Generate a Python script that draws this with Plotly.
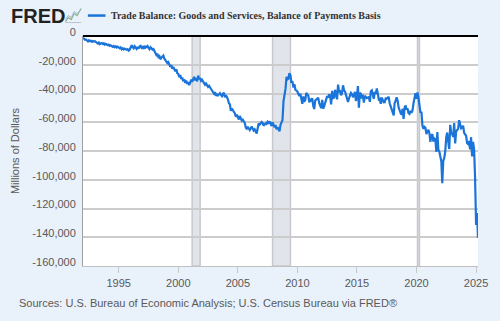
import pandas as pd
import plotly.graph_objects as go

# Monthly trade balance, thousands of millions (x1000 -> millions of dollars), Jan 1992 - Mar 2025
y1992 = [-1.2, -1.8, -2.6, -2.4, -3.2, -3.8, -3.0, -3.6, -3.3, -4.0, -3.5, -3.9]
y1993 = [-3.6, -4.2, -4.8, -5.3, -4.6, -5.7, -5.2, -4.9, -5.6, -5.1, -6.0, -5.5]
y1994 = [-5.9, -6.4, -6.0, -6.9, -6.5, -7.3, -7.6, -7.0, -7.8, -7.2, -8.0, -7.4]
y1995 = [-8.1, -8.6, -8.0, -9.2, -8.6, -9.4, -8.8, -9.0, -9.6, -9.2, -10.2, -9.6]
y1996 = [-7.2, -6.4, -7.8, -8.6, -7.1, -8.4, -9.0, -7.6, -8.8, -7.3, -6.8, -8.2]
y1997 = [-7.6, -9.0, -6.9, -8.1, -7.4, -7.0, -8.3, -9.2, -7.8, -8.6, -9.4, -9.0]
y1998 = [-10.8, -11.5, -13.2, -12.4, -14.6, -14.0, -16.2, -15.1, -14.4, -13.6, -15.8, -17.0]
y1999 = [-17.5, -18.8, -18.2, -19.6, -21.4, -20.2, -22.8, -21.6, -23.9, -24.6, -23.2, -25.8]
y2000 = [-26.4, -28.6, -27.2, -29.8, -28.9, -31.5, -30.2, -32.6, -31.0, -33.4, -32.1, -34.2]
y2001 = [-32.5, -30.4, -31.8, -29.6, -28.4, -30.9, -29.2, -31.6, -27.6, -30.0, -29.1, -31.2]
y2002 = [-30.5, -31.8, -32.6, -33.9, -33.0, -34.8, -35.4, -34.6, -35.9, -36.8, -38.2, -39.4]
y2003 = [-40.2, -39.1, -41.6, -40.8, -41.4, -40.6, -39.8, -40.9, -41.8, -40.3, -39.5, -42.6]
y2004 = [-41.2, -42.6, -44.0, -46.8, -47.5, -52.0, -50.4, -51.6, -52.8, -53.9, -56.2, -54.8]
y2005 = [-56.5, -58.1, -55.6, -57.4, -58.9, -58.2, -59.6, -60.4, -63.8, -64.5, -63.1, -64.9]
y2006 = [-65.4, -64.2, -63.0, -64.6, -65.8, -64.9, -66.4, -67.8, -64.2, -60.9, -61.6, -60.2]
y2007 = [-59.8, -60.6, -62.4, -61.5, -60.8, -61.2, -59.7, -60.5, -59.4, -60.8, -62.6, -60.1]
y2008 = [-62.8, -63.5, -61.9, -64.8, -63.4, -65.2, -66.3, -61.8, -60.6, -58.4, -45.2, -40.6]
y2009 = [-36.8, -28.4, -30.2, -29.6, -25.8, -27.4, -32.6, -31.4, -35.8, -33.6, -37.4, -37.9]
y2010 = [-38.6, -40.4, -41.8, -40.2, -43.6, -47.2, -42.1, -45.8, -44.3, -39.6, -40.8, -41.4]
y2011 = [-46.2, -44.6, -45.4, -43.2, -48.6, -50.8, -44.9, -44.2, -43.6, -43.0, -46.8, -48.2]
y2012 = [-50.2, -44.4, -50.6, -48.8, -46.4, -42.6, -41.8, -42.9, -40.6, -41.9, -47.6, -38.2]
y2013 = [-43.2, -42.8, -37.4, -40.2, -44.1, -33.8, -38.6, -38.4, -41.2, -39.6, -34.3, -37.8]
y2014 = [-38.7, -41.2, -43.6, -45.8, -43.4, -40.8, -39.6, -40.4, -42.6, -41.4, -38.8, -45.2]
y2015 = [-41.6, -34.8, -49.8, -39.6, -40.2, -43.4, -40.8, -46.4, -41.6, -42.4, -43.2, -42.8]
y2016 = [-42.6, -45.8, -38.4, -37.8, -40.6, -43.8, -38.9, -40.2, -36.4, -41.6, -44.2, -43.8]
y2017 = [-47.2, -42.8, -44.6, -46.2, -46.1, -43.4, -43.6, -43.2, -42.4, -46.8, -49.2, -51.6]
y2018 = [-52.4, -55.2, -46.6, -45.2, -42.6, -44.8, -49.6, -52.4, -53.6, -54.8, -50.6, -57.6]
y2019 = [-49.8, -48.4, -51.2, -50.4, -53.6, -54.2, -52.1, -53.4, -51.8, -46.8, -42.6, -39.8]
y2020 = [-43.6, -39.2, -42.8, -50.6, -53.4, -52.8, -62.4, -64.6, -63.2, -63.8, -68.2, -66.4]
y2021 = [-65.2, -67.8, -73.6, -69.4, -68.2, -73.4, -71.2, -71.8, -80.6, -66.8, -79.2, -80.4]
y2022 = [-85.6, -87.4, -102.4, -86.8, -84.8, -80.2, -70.4, -67.2, -73.4, -78.6, -61.8, -67.4]
y2023 = [-68.4, -70.2, -60.6, -74.8, -66.2, -65.4, -64.6, -58.6, -61.8, -64.2, -63.6, -62.4]
y2024 = [-67.4, -68.9, -69.4, -74.6, -75.2, -73.1, -78.8, -70.4, -83.8, -73.6, -78.9, -98.1]
y2025 = [-131.4, -123.2, -140.5]

yearly = [y1992, y1993, y1994, y1995, y1996, y1997, y1998, y1999, y2000, y2001,
          y2002, y2003, y2004, y2005, y2006, y2007, y2008, y2009, y2010, y2011,
          y2012, y2013, y2014, y2015, y2016, y2017, y2018, y2019, y2020, y2021,
          y2022, y2023, y2024, y2025]
values = [v * 1000 for yr in yearly for v in yr]
dates = pd.date_range("1992-01-01", periods=len(values), freq="MS")

recession_starts = ["2001-03-01", "2007-12-01", "2020-02-01"]
recession_ends = ["2001-11-01", "2009-06-01", "2020-04-01"]

y_tickvals = [0, -20000, -40000, -60000, -80000, -100000, -120000, -140000, -160000]
y_ticktext = ["0", "-20,000", "-40,000", "-60,000", "-80,000", "-100,000", "-120,000", "-140,000", "-160,000"]
x_tickvals = ["1995-01-01", "2000-01-01", "2005-01-01", "2010-01-01", "2015-01-01", "2020-01-01", "2025-01-01"]
x_ticktext = ["1995", "2000", "2005", "2010", "2015", "2020", "2025"]

series_name = "Trade Balance: Goods and Services, Balance of Payments Basis"
line_color = "#1a74d9"
bg = "#e9f1fa"
txt = "#595959"

fig = go.Figure()
fig.add_trace(go.Scatter(x=dates, y=values, mode="lines", name=series_name,
                         line=dict(color=line_color, width=2.2), showlegend=False))

for s, e in zip(recession_starts, recession_ends):
    fig.add_shape(type="rect", xref="x", yref="paper", x0=s, x1=e, y0=0, y1=1,
                  fillcolor="#e1e5eb", line=dict(color="#c6c8cc", width=1.5), layer="below")

# legend (manual)
L, R, T, B = 83, 487, 35.5, 266
def px(xp):
    return (xp - L) / (R - L)
def py(yp):
    return (B - yp) / (B - T)

fig.add_shape(type="line", xref="paper", yref="paper", x0=px(88), x1=px(106), y0=py(15), y1=py(15),
              line=dict(color=line_color, width=2.5))
fig.add_annotation(xref="paper", yref="paper", x=px(110), y=py(15), xanchor="left", yanchor="middle",
                   text="<b>" + series_name + "</b>", showarrow=False,
                   font=dict(family="Liberation Serif", size=10, color="#333333"))
# FRED logo text
fig.add_annotation(xref="paper", yref="paper", x=px(7), y=py(15), xanchor="left", yanchor="middle",
                   text="<b>FRED</b>", showarrow=False,
                   font=dict(family="Liberation Sans", size=20, color="#222222"))
# small logo icon
fig.add_shape(type="path", xref="paper", yref="paper",
              path="M %f,%f L %f,%f L %f,%f L %f,%f L %f,%f L %f,%f" % (
                  px(65), py(21), px(68), py(17), px(71), py(19), px(74), py(13), px(77), py(15), px(81), py(8)),
              line=dict(color="#8fb08c", width=1.2))
fig.add_shape(type="path", xref="paper", yref="paper",
              path="M %f,%f L %f,%f L %f,%f L %f,%f L %f,%f L %f,%f" % (
                  px(65), py(19), px(68), py(15), px(71), py(17), px(74), py(11), px(77), py(13), px(81), py(9)),
              line=dict(color="#9fb7cf", width=1))
fig.add_shape(type="line", xref="paper", yref="paper", x0=px(65), x1=px(81), y0=py(22), y1=py(22),
              line=dict(color="#b8c4cf", width=1))

# source note
fig.add_annotation(xref="paper", yref="paper", x=px(16), y=py(303), xanchor="left", yanchor="middle",
                   text="Sources: U.S. Bureau of Economic Analysis; U.S. Census Bureau via FRED®",
                   showarrow=False, font=dict(family="Liberation Sans", size=11, color=txt))

fig.update_layout(
    width=500, height=321,
    margin=dict(l=L, r=500 - R, t=T, b=321 - B),
    paper_bgcolor=bg, plot_bgcolor="#ffffff",
    font=dict(family="Liberation Sans", size=11, color=txt),
    showlegend=False,
    xaxis=dict(type="date", range=["1992-01-01", "2025-03-01"], tickvals=x_tickvals, ticktext=x_ticktext,
               showgrid=False, zeroline=False, showline=True, linecolor="#c0c0c0", linewidth=1,
               ticks="outside", ticklen=6, tickcolor="#c8c8c8", ticklabelstandoff=1,
               tickfont=dict(size=11, color=txt)),
    yaxis=dict(range=[-160000, 0], tickvals=y_tickvals, ticktext=y_ticktext,
               showgrid=True, gridcolor="#cccccc", gridwidth=1.5,
               zeroline=True, zerolinecolor="#000000", zerolinewidth=2,
               showline=True, linecolor="#a0a0a0", linewidth=1, ticks="",
               ticklabelshift=-4, ticklabelstandoff=4,
               title=dict(text="Millions of Dollars", font=dict(size=11, color=txt), standoff=10),
               tickfont=dict(size=11, color=txt)),
)

fig.write_html("out.html")
